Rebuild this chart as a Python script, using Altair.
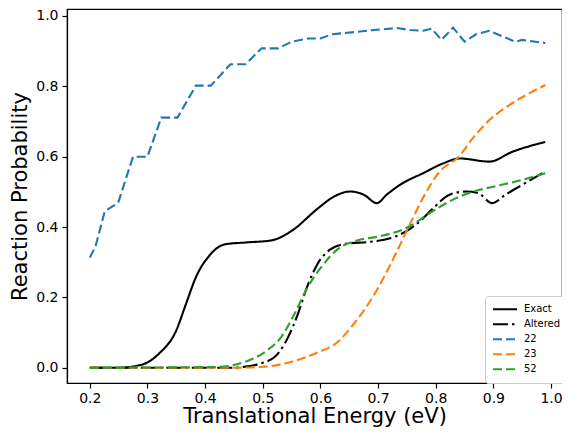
import altair as alt
import pandas as pd

series_names = ["Exact", "Altered", "22", "23", "52"]
series_colors = ["black", "black", "#1f77b4", "#ff7f0e", "#2ca02c"]

exact_x = [0.20, 0.25, 0.28, 0.30, 0.32, 0.35, 0.367, 0.384, 0.407, 0.435, 0.47, 0.515, 0.55, 0.595,
           0.624, 0.652, 0.675, 0.698, 0.715, 0.738, 0.778, 0.813, 0.841, 0.893, 0.933, 0.99]
exact_y = [0.0, 0.0, 0.005, 0.015, 0.04, 0.106, 0.182, 0.257, 0.318, 0.351, 0.356, 0.362, 0.389, 0.452,
           0.487, 0.501, 0.492, 0.468, 0.492, 0.52, 0.553, 0.581, 0.595, 0.586, 0.614, 0.642]

altered_x = [0.20, 0.45, 0.47, 0.492, 0.521, 0.544, 0.561, 0.578, 0.595, 0.618, 0.647, 0.687, 0.721, 0.75,
             0.773, 0.796, 0.824, 0.853, 0.873, 0.898, 0.921, 0.95, 0.99]
altered_y = [0.0, 0.0, 0.003, 0.010, 0.031, 0.087, 0.153, 0.235, 0.295, 0.337, 0.353, 0.358, 0.368, 0.389,
             0.417, 0.454, 0.492, 0.501, 0.497, 0.468, 0.492, 0.52, 0.558]

s22_x = [0.20, 0.21, 0.226, 0.249, 0.275, 0.30, 0.324, 0.352, 0.384, 0.41, 0.444, 0.47, 0.498, 0.527,
         0.55, 0.578, 0.60, 0.62, 0.664, 0.693, 0.733, 0.755, 0.778, 0.793, 0.81, 0.83, 0.85, 0.87,
         0.893, 0.916, 0.938, 0.95, 0.967, 0.99]
s22_y = [0.313, 0.345, 0.445, 0.468, 0.60, 0.60, 0.711, 0.711, 0.802, 0.802, 0.863, 0.863, 0.908, 0.908,
         0.927, 0.936, 0.936, 0.948, 0.955, 0.960, 0.966, 0.960, 0.958, 0.964, 0.932, 0.967, 0.927, 0.948,
         0.958, 0.942, 0.927, 0.932, 0.928, 0.923]

s23_x = [0.20, 0.45, 0.504, 0.55, 0.595, 0.63, 0.658, 0.687, 0.71, 0.733, 0.755, 0.778, 0.807, 0.84,
         0.864, 0.893, 0.927, 0.961, 0.99]
s23_y = [0.0, 0.0, 0.003, 0.017, 0.043, 0.073, 0.125, 0.191, 0.257, 0.332, 0.407, 0.483, 0.558, 0.60,
         0.652, 0.704, 0.746, 0.779, 0.804]

s52_x = [0.20, 0.42, 0.47, 0.504, 0.532, 0.555, 0.578, 0.601, 0.63, 0.664, 0.704, 0.75, 0.79, 0.824,
         0.858, 0.904, 0.95, 0.99]
s52_y = [0.0, 0.002, 0.017, 0.045, 0.087, 0.153, 0.229, 0.285, 0.337, 0.362, 0.374, 0.398, 0.44, 0.473,
         0.497, 0.516, 0.534, 0.553]

x_ticks = [0.2, 0.3, 0.4, 0.5, 0.6, 0.7, 0.8, 0.9, 1.0]
y_ticks = [0.0, 0.2, 0.4, 0.6, 0.8, 1.0]

series_data = [
    ("Exact", exact_x, exact_y, "monotone"),
    ("Altered", altered_x, altered_y, "monotone"),
    ("22", s22_x, s22_y, "linear"),
    ("23", s23_x, s23_y, "monotone"),
    ("52", s52_x, s52_y, "monotone"),
]

rows = []
for name, xs, ys, _ in series_data:
    for i, (xv, yv) in enumerate(zip(xs, ys)):
        rows.append({"series": name, "E": xv, "P": yv, "idx": i})
df = pd.DataFrame(rows)

color_scale = alt.Scale(domain=series_names, range=series_colors)
dash_scale = alt.Scale(domain=series_names,
                       range=[[1, 0], [15, 4, 2.5, 4], [9, 4], [9, 4], [9, 4]])

x_enc = alt.X("E:Q", scale=alt.Scale(domain=[0.1605, 1.019], nice=False, zero=False),
              axis=alt.Axis(values=x_ticks, format=".1f", title="Translational Energy (eV)"))
y_enc = alt.Y("P:Q", scale=alt.Scale(domain=[-0.0435, 1.0199], nice=False, zero=False),
              axis=alt.Axis(values=y_ticks, format=".1f", title="Reaction Probability"))

layers = []
for name, _, _, interp in series_data:
    layers.append(
        alt.Chart(df)
        .transform_filter(alt.datum.series == name)
        .mark_line(interpolate=interp, strokeWidth=2.1)
        .encode(
            x=x_enc,
            y=y_enc,
            color=alt.Color("series:N", scale=color_scale, legend=alt.Legend(title=None)),
            strokeDash=alt.StrokeDash("series:N", scale=dash_scale, legend=alt.Legend(title=None)),
            order="idx:Q",
        )
    )

chart = (
    alt.layer(*layers)
    .properties(width=495, height=374,
                autosize=alt.AutoSizeParams(type="none"),
                padding={"left": 59, "top": 1, "right": 0, "bottom": 44})
    .configure(font="DejaVu Sans")
    .configure_view(stroke="black", strokeWidth=1.2)
    .configure_axis(grid=False, domainColor="black", domainWidth=1.2, tickColor="black", tickSize=5,
                    tickWidth=1.2, labelColor="black", labelFontSize=14, labelPadding=3,
                    titleColor="black", titleFontSize=21, titleFontWeight="normal", labelFont="DejaVu Sans",
                    titleFont="DejaVu Sans")
    .configure_axisX(titlePadding=0.5)
    .configure_axisY(titlePadding=5, labelPadding=4)
    .configure_legend(orient="none", legendX=418, legendY=287, strokeColor="#cccccc", fillColor="white",
                      padding=7, cornerRadius=3, labelFontSize=10, labelFont="DejaVu Sans",
                      labelColor="black", symbolType="stroke", symbolSize=576, symbolStrokeWidth=2,
                      labelOffset=6, rowPadding=2, clipHeight=12.7)
)

chart.save("out.html", embed_options={"renderer": "svg", "actions": False})
